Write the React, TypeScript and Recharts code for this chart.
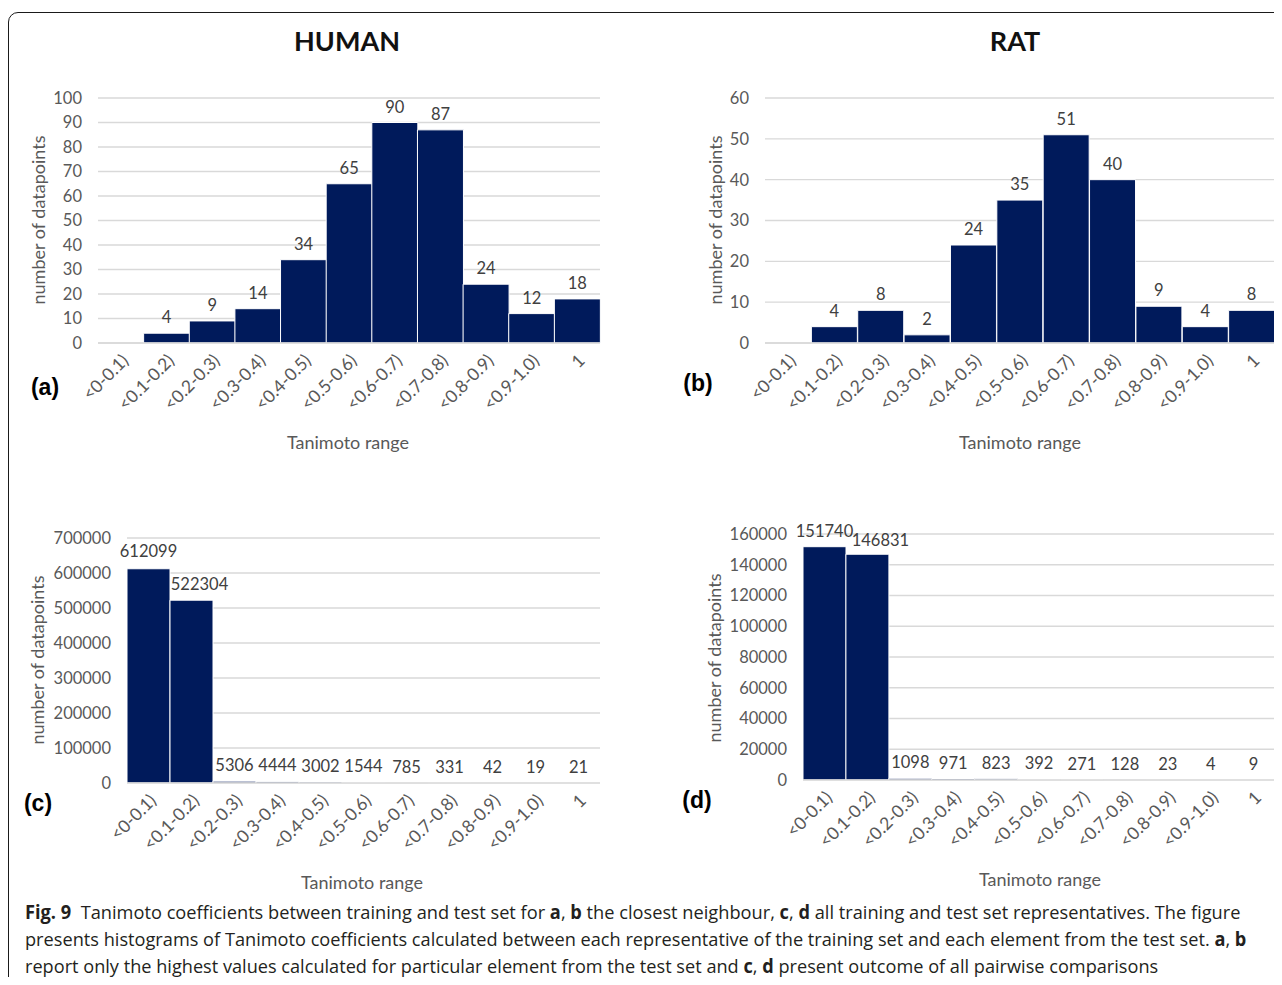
import React, { useLayoutEffect, useRef, useState } from "react";
import {
  BarChart,
  Bar,
  XAxis,
  YAxis,
  CartesianGrid,
  LabelList,
} from "recharts";

const ranges = [
  "<0-0.1)",
  "<0.1-0.2)",
  "<0.2-0.3)",
  "<0.3-0.4)",
  "<0.4-0.5)",
  "<0.5-0.6)",
  "<0.6-0.7)",
  "<0.7-0.8)",
  "<0.8-0.9)",
  "<0.9-1.0)",
  "1",
];

// closest neighbour counts
const humanNearest = [0, 4, 9, 14, 34, 65, 90, 87, 24, 12, 18];
const ratNearest = [0, 4, 8, 2, 24, 35, 51, 40, 9, 4, 8];

// all pairwise comparisons
const humanAll = [612099, 522304, 5306, 4444, 3002, 1544, 785, 331, 42, 19, 21];
const ratAll = [151740, 146831, 1098, 971, 823, 392, 271, 128, 23, 4, 9];

const humanNearestTicks = [0, 10, 20, 30, 40, 50, 60, 70, 80, 90, 100];
const ratNearestTicks = [0, 10, 20, 30, 40, 50, 60];
const humanAllTicks = [0, 100000, 200000, 300000, 400000, 500000, 600000, 700000];
const ratAllTicks = [0, 20000, 40000, 60000, 80000, 100000, 120000, 140000, 160000];

const FONT = "Lato, 'Open Sans', sans-serif";
const BAR = "#001a5b";
const GRID = "#d9d9d9";
const TICK = "#595959";

type Box = { left: number; right: number; top: number; bottom: number };
// per-bar label nudge [dx, dy] so neighbouring tall labels don't collide
type Nudge = Record<number, [number, number]>;

const Y_AXIS_W = 80;
const X_AXIS_H = 80;
const TOP_PAD = 30;

const Histogram = ({
  values,
  ticks,
  box,
  nudge = {},
}: {
  values: number[];
  ticks: number[];
  box: Box;
  nudge?: Nudge;
}) => {
  const data = ranges.map((range, i) => ({ range, count: values[i] }));
  const chartLeft = box.left - Y_AXIS_W;
  const width = box.right + 5 - chartLeft;
  const height = box.bottom - box.top + TOP_PAD + X_AXIS_H;

  const renderLabel = (props: any) => {
    const { x, y, width: w, value, index } = props;
    const [dx, dy] = nudge[index] ?? [0, 0];
    return (
      <text
        x={x + w / 2 + dx}
        y={y - 10 + dy}
        textAnchor="middle"
        fill="#404040"
        fontSize={16.5}
        fontFamily={FONT}
      >
        {value}
      </text>
    );
  };

  return (
    <div style={{ position: "absolute", left: chartLeft, top: box.top - TOP_PAD }}>
      <BarChart
        width={width}
        height={height}
        data={data}
        barCategoryGap={0}
        margin={{ top: TOP_PAD, right: 5, left: 0, bottom: 0 }}
      >
        <CartesianGrid vertical={false} stroke={GRID} strokeWidth={1.3} />
        <XAxis
          dataKey="range"
          interval={0}
          height={X_AXIS_H}
          axisLine={{ stroke: GRID, strokeWidth: 1.3 }}
          tickLine={false}
          tickMargin={4}
          angle={-45}
          textAnchor="end"
          tick={{ fill: TICK, fontSize: 17.5, fontFamily: FONT }}
        />
        <YAxis
          width={Y_AXIS_W}
          domain={[0, ticks[ticks.length - 1]]}
          ticks={ticks}
          interval={0}
          axisLine={false}
          tickLine={false}
          tickMargin={10}
          tick={{ fill: TICK, fontSize: 16.5, fontFamily: FONT }}
        />
        <Bar
          dataKey="count"
          fill={BAR}
          stroke="#ffffff"
          strokeWidth={1}
          isAnimationActive={false}
        >
          <LabelList dataKey="count" content={renderLabel} />
        </Bar>
      </BarChart>
    </div>
  );
};

const Caption = ({
  x,
  y,
  children,
  size = 18,
  color = TICK,
  bold = false,
  rotate = 0,
  family = FONT,
}: {
  x: number;
  y: number;
  children: React.ReactNode;
  size?: number;
  color?: string;
  bold?: boolean;
  rotate?: number;
  family?: string;
}) => (
  <div
    style={{
      position: "absolute",
      left: x,
      top: y,
      transform: `translate(-50%, -50%) rotate(${rotate}deg)`,
      whiteSpace: "nowrap",
      fontFamily: family,
      fontSize: size,
      fontWeight: bold ? 700 : 400,
      color,
      lineHeight: 1,
    }}
  >
    {children}
  </div>
);

// one line of the figure legend, squeezed horizontally to a set width
const LegendLine = ({
  top,
  width,
  children,
}: {
  top: number;
  width: number;
  children: React.ReactNode;
}) => {
  const ref = useRef<HTMLDivElement>(null);
  const [scale, setScale] = useState(1);
  useLayoutEffect(() => {
    if (ref.current) setScale(width / ref.current.offsetWidth);
  }, [width]);
  return (
    <div
      ref={ref}
      style={{
        position: "absolute",
        left: 25,
        top,
        display: "inline-block",
        whiteSpace: "nowrap",
        fontFamily: "'Open Sans', sans-serif",
        fontSize: 19,
        lineHeight: 1,
        color: "#231f20",
        transform: `scaleX(${scale})`,
        transformOrigin: "0 0",
      }}
    >
      {children}
    </div>
  );
};

const LETTER_FONT = "'Liberation Sans', Arial, sans-serif";

export default function App() {
  return (
    <div
      style={{
        position: "relative",
        width: 1282,
        height: 985,
        margin: -8,
        overflow: "hidden",
        background: "#ffffff",
      }}
    >
      <div
        style={{
          position: "absolute",
          left: 8,
          top: 12,
          width: 1320,
          height: 1020,
          border: "1.5px solid #1a1a1a",
          borderRadius: 10,
        }}
      />

      <Caption x={347} y={40} size={27} bold color="#111">
        HUMAN
      </Caption>
      <Caption x={1015} y={40} size={27} bold color="#111">
        RAT
      </Caption>

      <Histogram
        values={humanNearest}
        ticks={humanNearestTicks}
        box={{ left: 98, right: 600, top: 98, bottom: 343 }}
      />
      <Histogram
        values={ratNearest}
        ticks={ratNearestTicks}
        box={{ left: 765, right: 1275, top: 98, bottom: 343 }}
      />
      <Histogram
        values={humanAll}
        ticks={humanAllTicks}
        box={{ left: 127, right: 600, top: 538, bottom: 783 }}
        nudge={{ 0: [0, -2], 1: [8, 0] }}
      />
      <Histogram
        values={ratAll}
        ticks={ratAllTicks}
        box={{ left: 803, right: 1275, top: 534, bottom: 780 }}
        nudge={{ 0: [0, 0], 1: [13, 2] }}
      />

      <Caption x={38} y={220} rotate={-90}>number of datapoints</Caption>
      <Caption x={715} y={220} rotate={-90}>number of datapoints</Caption>
      <Caption x={37} y={660} rotate={-90}>number of datapoints</Caption>
      <Caption x={714} y={658} rotate={-90}>number of datapoints</Caption>

      <Caption x={348} y={442}>Tanimoto range</Caption>
      <Caption x={1020} y={442}>Tanimoto range</Caption>
      <Caption x={362} y={882}>Tanimoto range</Caption>
      <Caption x={1040} y={879}>Tanimoto range</Caption>

      <Caption x={45} y={387} size={23} bold color="#000" family={LETTER_FONT}>(a)</Caption>
      <Caption x={698} y={383} size={23} bold color="#000" family={LETTER_FONT}>(b)</Caption>
      <Caption x={38} y={803} size={23} bold color="#000" family={LETTER_FONT}>(c)</Caption>
      <Caption x={697} y={800} size={23} bold color="#000" family={LETTER_FONT}>(d)</Caption>

      <LegendLine top={903} width={1215}>
        <b>Fig. 9</b>
        {"\u00a0 Tanimoto coefficients between training and test set for "}
        <b>a</b>, <b>b</b>
        {" the closest neighbour, "}
        <b>c</b>, <b>d</b>
        {" all training and test set representatives. The figure"}
      </LegendLine>
      <LegendLine top={930} width={1221}>
        {"presents histograms of Tanimoto coefficients calculated between each representative of the training set and each element from the test set. "}
        <b>a</b>, <b>b</b>
      </LegendLine>
      <LegendLine top={957} width={1133}>
        {"report only the highest values calculated for particular element from the test set and "}
        <b>c</b>, <b>d</b>
        {" present outcome of all pairwise comparisons"}
      </LegendLine>
    </div>
  );
}
